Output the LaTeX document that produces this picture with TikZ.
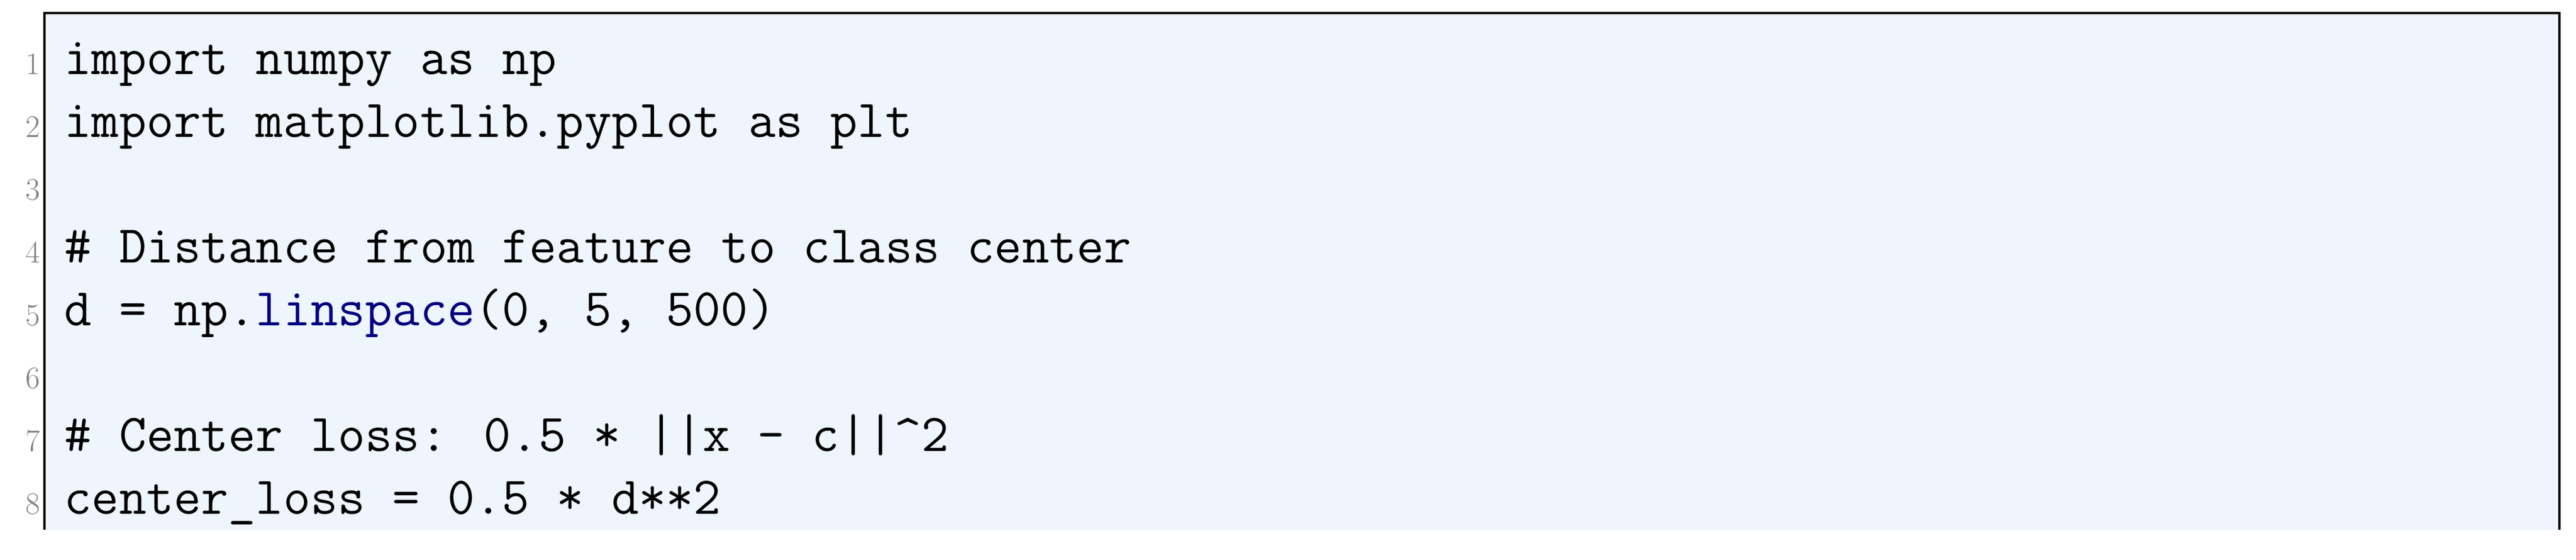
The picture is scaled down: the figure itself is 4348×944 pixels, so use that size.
\documentclass[tikz,border=0pt]{standalone}
\usepackage{xcolor}
\usetikzlibrary{calc}
\definecolor{codebg}{RGB}{238,245,253}
\definecolor{codenum}{RGB}{128,128,128}
\definecolor{codekw}{RGB}{0,0,128}
\newcommand{\codeline}[3]{%
  \node[num] (n#1) at (68,#2) {#1};
  \node[code] (l#1) at (108,#2) {#3};}
\begin{document}
\begin{tikzpicture}[x=0.01cm,y=0.01cm,
  num/.style={anchor=base east,inner sep=0pt,text=codenum,font=\fontsize{15}{15}\selectfont},
  code/.style={anchor=base west,inner sep=0pt,font=\fontsize{25.5}{30}\ttfamily}]

% Canvas and frame
\useasboundingbox (0,0) rectangle (4348,944);
\fill[codebg] (75,50) rectangle (4320,922);
\draw[line width=1.2pt] (75,50) -- (75,922) -- (4320,922) -- (4320,50);

% Code lines
\codeline{1}{819}{import numpy as np}
\codeline{2}{713}{import matplotlib.pyplot as plt}
\codeline{3}{607}{}
\codeline{4}{501}{\# Distance from feature to class center}
\codeline{5}{395}{d = np.\textcolor{codekw}{linspace}(0, 5, 500)}
\codeline{6}{289}{}
\codeline{7}{183}{\# Center loss: 0.5 * ||x - c||\^{}2}
\codeline{8}{77}{center\_loss = 0.5 * d**2}

\end{tikzpicture}
\end{document}
